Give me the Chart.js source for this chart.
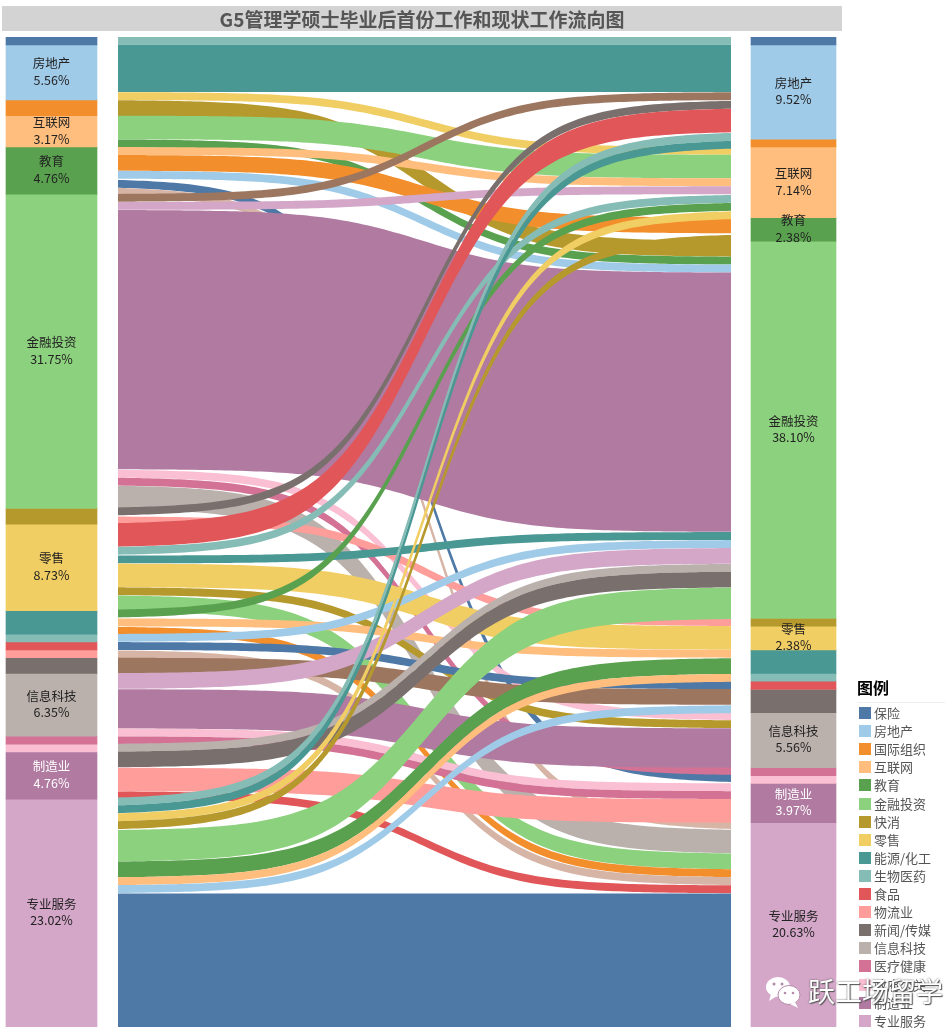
<!DOCTYPE html>
<html>
<head>
<meta charset="utf-8">
<title>G5管理学硕士毕业后首份工作和现状工作流向图</title>
<script src="https://cdn.jsdelivr.net/npm/chart.js@4/dist/chart.umd.min.js"></script>
<style>
    html, body { margin: 0; padding: 0; background: #fff; }
    #wrap { position: relative; width: 952px; height: 1033px; overflow: hidden; font-family: "Noto Sans CJK SC", sans-serif; }
    #flowChart { position: absolute; left: 0; top: 0; }
    #title { position: absolute; left: 2px; top: 6px; width: 840px; height: 25px; line-height: 25px; background: #d3d3d3; color: #555; font-size: 19px; font-weight: bold; text-align: center; }
    #legendTitle { position: absolute; left: 857px; top: 676px; font-size: 16px; font-weight: bold; color: #000; line-height: 22px; }
    #legendLine { position: absolute; left: 857px; top: 702px; width: 88px; height: 1px; background: #eee; }
    .legend-row { position: absolute; left: 859px; height: 18px; line-height: 18px; font-size: 13px; color: #555; white-space: nowrap; }
    .legend-row i { display: inline-block; width: 12px; height: 12px; margin-right: 3px; vertical-align: -1px; }
    #mark { position: absolute; left: 808px; top: 973px; font-size: 27px; line-height: 36px; color: #fff; text-shadow: 0 0 2px #555, 1px 1px 1px #555; white-space: nowrap; }
    #markIcon { position: absolute; left: 763px; top: 974px; }
</style>
</head>
<body>
<div id="wrap">
    <canvas id="flowChart" width="952" height="1033"></canvas>
    <div id="title">G5管理学硕士毕业后首份工作和现状工作流向图</div>
    <div id="legendTitle">图例</div>
    <div id="legendLine"></div>
    <div id="legendRows"></div>
    <svg id="markIcon" width="40" height="36" viewBox="0 0 40 36">
        <ellipse cx="15" cy="13" rx="12" ry="10" fill="#fff"/>
        <path d="M8 20 L6 27 L14 22 Z" fill="#fff"/>
        <ellipse cx="26" cy="21" rx="11" ry="9.5" fill="#fff" stroke="#b58aa8" stroke-width="1"/>
        <path d="M32 28 L35 34 L27 30 Z" fill="#fff"/>
        <circle cx="11" cy="10" r="1.5" fill="#b58aa8"/>
        <circle cx="19" cy="10" r="1.5" fill="#b58aa8"/>
        <circle cx="22" cy="19" r="1.3" fill="#b58aa8"/>
        <circle cx="30" cy="19" r="1.3" fill="#b58aa8"/>
    </svg>
    <div id="mark">跃工场留学</div>
</div>
<script>
// 行业分类
const categories = ["保险", "房地产", "国际组织", "互联网", "教育", "金融投资", "快消", "零售", "能源/化工", "生物医药", "食品", "物流业", "新闻/传媒", "信息科技", "医疗健康", "政府公关", "制造业", "专业服务"]

// 每个行业的人数 (共126人)
const firstJob = [1, 7, 2, 4, 6, 40, 2, 11, 3, 1, 1, 1, 2, 8, 1, 1, 6, 29]
const currentJob = [1, 12, 1, 9, 3, 48, 1, 3, 3, 1, 1, 0, 3, 7, 1, 1, 5, 26]

// 有文字标签的行业
const firstLabels = ["房地产", "互联网", "教育", "金融投资", "零售", "信息科技", "制造业", "专业服务"]
const currentLabels = ["房地产", "互联网", "教育", "金融投资", "零售", "信息科技", "制造业", "专业服务"]

// 流向: 首份工作 -> 现状工作 (下标对应 categories), 后面的画在上层
const flowFrom = [0, 1, 1, 2, 3, 3, 4, 4, 4, 4, 4, 5, 5, 5, 5, 5, 5, 6, 6, 7, 7, 7, 7, 7, 7, 8, 8, 8, 9, 10, 11, 12, 13, 13, 13, 14, 15, 16, 16, 16, 17, 17, 17, 17, 17, 17, 17, 17, 17]
const flowTo = [0, 1, 3, 5, 3, 5, 3, 4, 5, 15, 17, 1, 3, 5, 13, 14, 17, 1, 6, 1, 3, 5, 7, 13, 17, 3, 8, 17, 5, 10, 17, 12, 5, 13, 16, 16, 5, 5, 16, 17, 1, 2, 3, 4, 5, 8, 9, 12, 17]
const flowValues = [1, 6, 1, 2, 3, 1, 1, 2, 1, 1, 1, 1, 1, 33, 1, 1, 3, 1, 1, 3, 1, 1, 3, 1, 2, 1, 1, 1, 1, 1, 1, 2, 2, 5, 1, 1, 1, 2, 3, 1, 1, 1, 1, 1, 4, 2, 1, 1, 17]

// 颜色
const categoryColors = ["#4e79a7", "#a0cbe8", "#f28e2b", "#ffbe7d", "#59a14f", "#8cd17d", "#b6992d", "#f1ce63", "#499894", "#86bcb6", "#e15759", "#ff9d9a", "#79706e", "#bab0ac", "#d37295", "#fabfd2", "#b07aa1", "#d4a6c8"]
const brown = "#9d7660"
const tan = "#d7b5a6"
const flowColors = [
    "#86bcb6", "#499894", "#f1ce63", "#b6992d", "#8cd17d", "#59a14f",
    "#ffbe7d", "#f28e2b", "#a0cbe8", "#4e79a7", tan,
    brown, "#d4a6c8", "#b07aa1", "#fabfd2", "#d37295", "#bab0ac",
    "#79706e", "#ff9d9a",
    "#e15759", "#86bcb6", "#499894", "#f1ce63", "#b6992d", "#8cd17d",
    "#59a14f", "#ffbe7d", "#f28e2b",
    "#a0cbe8", "#4e79a7", tan, brown,
    "#d4a6c8", "#b07aa1", "#fabfd2", "#d37295", "#bab0ac",
    "#79706e", "#ff9d9a", "#e15759",
    "#86bcb6", "#499894", "#f1ce63", "#b6992d", "#8cd17d", "#59a14f", "#ffbe7d", "#a0cbe8", "#4e79a7"
]

// 版面 (x 轴的单位就是像素)
const firstColX = 51.5
const currentColX = 793.5
const firstColWidth = 91
const currentColWidth = 85
const flowStartX = 118
const flowEndX = 731
const totalPeople = 126

function percent(v) {
    return (v / totalPeople * 100).toFixed(2) + "%"
}

// 算出每条流向在两边的起始人数位置
function flowOffsets() {
    const order = flowValues.map((v, i) => i)
    const starts = []
    const ends = []
    let sum = 0
    const firstTop = firstJob.map(v => { const s = sum; sum += v; return s })
    sum = 0
    const currentTop = currentJob.map(v => { const s = sum; sum += v; return s })
    order.slice().sort((a, b) => flowFrom[a] - flowFrom[b] || flowTo[a] - flowTo[b]).forEach(i => {
        starts[i] = firstTop[flowFrom[i]]
        firstTop[flowFrom[i]] += flowValues[i]
    })
    order.slice().sort((a, b) => flowTo[a] - flowTo[b] || flowFrom[a] - flowFrom[b]).forEach(i => {
        ends[i] = currentTop[flowTo[i]]
        currentTop[flowTo[i]] += flowValues[i]
    })
    return { starts, ends }
}

// S形曲线
function sigmoid(p) {
    return 1 / (1 + Math.exp(-(p * 12 - 6)))
}

// 画中间的流向带
const flowPlugin = {
    id: "flowBands",
    beforeDatasetsDraw(chart) {
        const ctx = chart.ctx
        const xs = chart.scales.x
        const ys = chart.scales.y
        const { starts, ends } = flowOffsets()
        const x0 = xs.getPixelForValue(flowStartX)
        const x1 = xs.getPixelForValue(flowEndX)
        const steps = 120
        flowValues.forEach((v, i) => {
            const topA = ys.getPixelForValue(starts[i])
            const topB = ys.getPixelForValue(ends[i])
            const botA = ys.getPixelForValue(starts[i] + v)
            const botB = ys.getPixelForValue(ends[i] + v)
            ctx.beginPath()
            for (let s = 0; s <= steps; s++) {
                const p = s / steps
                const y = topA + (topB - topA) * sigmoid(p)
                ctx.lineTo(x0 + (x1 - x0) * p, y)
            }
            for (let s = steps; s >= 0; s--) {
                const p = s / steps
                const y = botA + (botB - botA) * sigmoid(p)
                ctx.lineTo(x0 + (x1 - x0) * p, y)
            }
            ctx.closePath()
            ctx.fillStyle = flowColors[i]
            ctx.fill()
        })
    }
}

// 两边柱子上的文字
const labelPlugin = {
    id: "columnLabels",
    afterDatasetsDraw(chart) {
        const ctx = chart.ctx
        const xs = chart.scales.x
        const ys = chart.scales.y
        const drawSide = (values, labels, colX) => {
            let sum = 0
            values.forEach((v, i) => {
                const name = categories[i]
                if (labels.includes(name)) {
                    const cy = ys.getPixelForValue(sum + v / 2)
                    ctx.fillStyle = name === "制造业" ? "#fff" : "#222"
                    ctx.font = '12.5px "Noto Sans CJK SC"'
                    ctx.textAlign = "center"
                    ctx.textBaseline = "middle"
                    ctx.fillText(name, xs.getPixelForValue(colX), cy - 9)
                    ctx.fillText(percent(v), xs.getPixelForValue(colX), cy + 7.5)
                }
                sum += v
            })
        }
        drawSide(firstJob, firstLabels, firstColX)
        drawSide(currentJob, currentLabels, currentColX)
    }
}

function sideDatasets(values, colX, width) {
    return values.map((v, i) => ({
        label: categories[i],
        data: [{ x: colX, y: v }],
        backgroundColor: categoryColors[i],
        barThickness: width,
        grouped: false,
        stack: "people"
    }))
}

function createChart() {
    new Chart(document.getElementById("flowChart"), {
        type: "bar",
        data: {
            datasets: sideDatasets(firstJob, firstColX, firstColWidth).concat(sideDatasets(currentJob, currentColX, currentColWidth))
        },
        options: {
            responsive: false,
            animation: false,
            layout: { padding: { top: 37, bottom: 6 } },
            scales: {
                x: { type: "linear", min: 0, max: 952, offset: false, stacked: true, display: false },
                y: { min: 0, max: totalPeople, reverse: true, stacked: true, display: false }
            },
            plugins: {
                legend: { display: false },
                tooltip: { enabled: false }
            }
        },
        plugins: [flowPlugin, labelPlugin]
    })
}

// 图例
function createLegend() {
    const box = document.getElementById("legendRows")
    categories.forEach((name, i) => {
        const row = document.createElement("div")
        row.className = "legend-row"
        row.style.top = (704 + i * 18.1) + "px"
        row.innerHTML = '<i style="background:' + categoryColors[i] + '"></i>' + name
        box.appendChild(row)
    })
}

createChart()
createLegend()
</script>
</body>
</html>
